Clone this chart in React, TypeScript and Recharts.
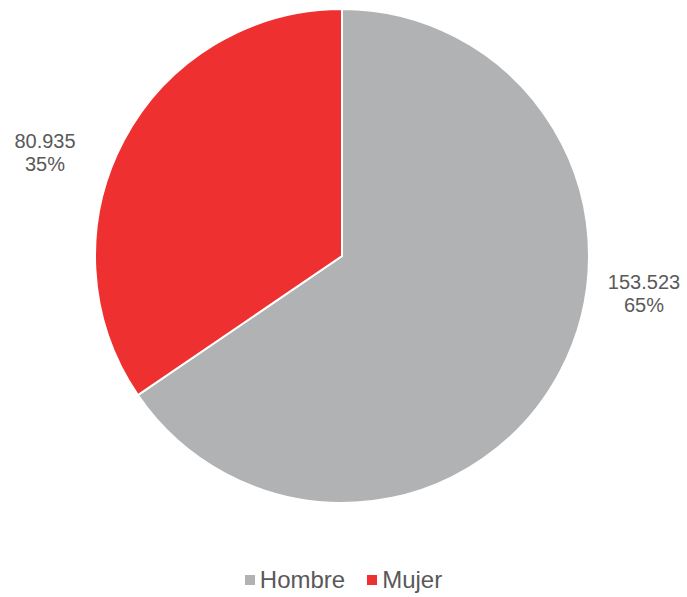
import React from "react";
import { PieChart, Pie, Cell, Legend } from "recharts";

const categories = ["Hombre", "Mujer"];
const values = [153523, 80935];
const valueLabels = ["153.523", "80.935"];
const percentLabels = ["65%", "35%"];

const COLORS = ["#B1B2B4", "#EE3030"];
const TEXT = "#595959";
const FONT = "'Liberation Sans', Arial, sans-serif";

const data = categories.map((name, i) => ({ name, value: values[i], i }));

// label placement offsets relative to the slice edge (style, not data)
const LABEL_OFFSETS = [
  { dx: 55, dy: 37 },
  { dx: -50, dy: -104 },
];

const renderLabel = (props: any) => {
  const { cx, cy, outerRadius, midAngle, index } = props;
  const RAD = Math.PI / 180;
  const cos = Math.cos(-midAngle * RAD);
  const off = LABEL_OFFSETS[index];
  const x = cx + (outerRadius + Math.abs(off.dx)) * Math.sign(cos);
  const y = cy + off.dy;
  return (
    <text
      x={x}
      y={y}
      textAnchor="middle"
      fill={TEXT}
      fontFamily={FONT}
      fontSize={20}
    >
      <tspan x={x} dy={-4}>{valueLabels[index]}</tspan>
      <tspan x={x} dy={23}>{percentLabels[index]}</tspan>
    </text>
  );
};

const renderLegend = () => (
  <div
    style={{
      display: "flex",
      justifyContent: "center",
      alignItems: "center",
      fontFamily: FONT,
      fontSize: 24,
      lineHeight: "28px",
      color: TEXT,
    }}
  >
    {categories.map((c, i) => (
      <div key={c} style={{ display: "flex", alignItems: "center", marginRight: i === 0 ? 22 : 0 }}>
        <span style={{ width: 10, height: 10, background: COLORS[i], display: "inline-block", marginRight: 5 }} />
        <span>{c}</span>
      </div>
    ))}
  </div>
);

export default function App() {
  return (
    <div style={{ position: "absolute", left: 0, top: 0, width: 687, height: 597, background: "#fff" }}>
      <PieChart width={687} height={597} margin={{ top: 0, right: 0, bottom: 0, left: 0 }}>
        <Pie
          data={data}
          dataKey="value"
          nameKey="name"
          cx={342}
          cy={256}
          outerRadius={247}
          startAngle={90}
          endAngle={-270}
          stroke="#ffffff"
          strokeWidth={2}
          label={renderLabel}
          labelLine={false}
          isAnimationActive={false}
        >
          {data.map((d, i) => (
            <Cell key={d.name} fill={COLORS[i]} />
          ))}
        </Pie>
        <Legend
          content={renderLegend}
          verticalAlign="bottom"
          wrapperStyle={{ top: 566, left: 0, width: 687 }}
        />
      </PieChart>
    </div>
  );
}
